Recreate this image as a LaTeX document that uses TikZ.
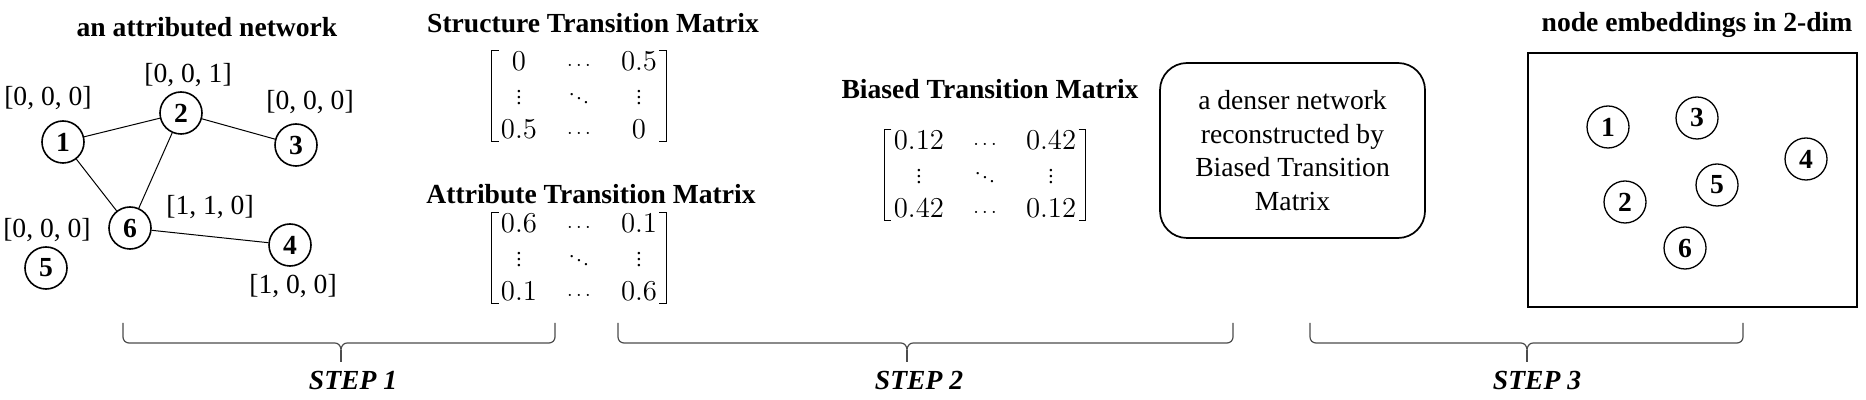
\documentclass[tikz,border=0pt]{standalone}
\usepackage{fontspec}
\setmainfont{Liberation Serif}
\usetikzlibrary{matrix}
\newcommand\hdts{\scalebox{0.7}{$\cdots$}}
\newcommand\vdts{\scalebox{0.75}{$\vdots$}}
\newcommand\ddts{\scalebox{0.7}{$\ddots$}}
\newcommand\fsz{\fontsize{13.8}{16.7}\selectfont}
\newcommand\lbrk[1]{\draw[brk] ([shift={(-1pt,1pt)}]#1.north west) -- ([shift={(-4.5pt,1pt)}]#1.north west) -- ([shift={(-4.5pt,-1pt)}]#1.south west) -- ([shift={(-1pt,-1pt)}]#1.south west);}
\newcommand\rbrk[1]{\draw[brk] ([shift={(1pt,1pt)}]#1.north east) -- ([shift={(4.5pt,1pt)}]#1.north east) -- ([shift={(4.5pt,-1pt)}]#1.south east) -- ([shift={(1pt,-1pt)}]#1.south east);}
\newcommand\stepbrace[3]{%
  \draw[bracestyle] (#1,323) -- (#1,337) to[out=-90,in=180] ({#1+6},343) -- ({#3-6},343)
    to[out=0,in=90] (#3,350) to[out=90,in=180] ({#3+6},343) -- ({#2-6},343)
    to[out=0,in=-90] (#2,337) -- (#2,323);
  \draw[bracestyle] (#3,350) -- (#3,362);}
\tikzset{
  ttl/.style={font=\fsz\bfseries, anchor=base, inner sep=0pt},
  attr/.style={font=\fsz, anchor=base, inner sep=0pt},
  gnode/.style={circle, draw, line width=0.8pt, minimum size=21pt, inner sep=0pt, font=\fsz\bfseries},
  enode/.style={gnode, line width=0.65pt},
  netedge/.style={line width=0.5pt},
  mat/.style={matrix of math nodes, row sep=8pt, inner sep=0pt,
    nodes={anchor=center, inner sep=0pt, text height=9pt, text depth=0pt, font=\fontsize{14}{16}\selectfont}},
  brk/.style={line width=0.6pt},
  bracestyle/.style={line width=0.6pt, black!70},
  steplabel/.style={font=\fsz\bfseries\itshape, anchor=base, inner sep=0pt},
}
\begin{document}
\begin{tikzpicture}[x=0.5pt, y=-0.5pt]
\fill[white] (0,0) rectangle (1866,400);
\useasboundingbox (0,0) rectangle (1866,400);

% titles
\node[ttl] (t1) at (207,37) {an attributed network};
\node[ttl] (t2) at (593,33) {Structure Transition Matrix};
\node[ttl] (t3) at (591,204) {Attribute Transition Matrix};
\node[ttl] (t4) at (990,99) {Biased Transition Matrix};
\node[ttl] (t5) at (1697,32) {node embeddings in 2-dim};

% network
\node[gnode] (n1) at (63,142) {1};
\node[gnode] (n2) at (181,113) {2};
\node[gnode] (n3) at (296,145) {3};
\node[gnode] (n6) at (130,228) {6};
\node[gnode] (n4) at (290,245) {4};
\node[gnode] (n5) at (46,268) {5};
\draw[netedge] (n1) -- (n2);
\draw[netedge] (n2) -- (n3);
\draw[netedge] (n1) -- (n6);
\draw[netedge] (n2) -- (n6);
\draw[netedge] (n6) -- (n4);

\node[attr] (a1) at (48,106) {[0, 0, 0]};
\node[attr] (a2) at (188,83) {[0, 0, 1]};
\node[attr] (a3) at (310,110) {[0, 0, 0]};
\node[attr] (a6) at (210,215) {[1, 1, 0]};
\node[attr] (a5) at (47,238) {[0, 0, 0]};
\node[attr] (a4) at (293,293) {[1, 0, 0]};

% matrices
\matrix (m1) [mat, column sep=12pt, nodes={minimum width=18pt}] at (579,96) {
0 & \hdts & 0.5 \\
\vdts & \ddts & \vdts \\
0.5 & \hdts & 0 \\
};
\lbrk{m1}\rbrk{m1}

\matrix (m2) [mat, column sep=12pt, nodes={minimum width=18pt}] at (579,258) {
0.6 & \hdts & 0.1 \\
\vdts & \ddts & \vdts \\
0.1 & \hdts & 0.6 \\
};
\lbrk{m2}\rbrk{m2}

\matrix (m3) [mat, column sep=8pt, nodes={minimum width=25pt}] at (985,175) {
0.12 & \hdts & 0.42 \\
\vdts & \ddts & \vdts \\
0.42 & \hdts & 0.12 \\
};
\lbrk{m3}\rbrk{m3}

% dense network box
\node[draw, line width=0.85pt, rounded corners=13.5pt, minimum width=132.5pt, minimum height=87.5pt,
  align=center, font=\fsz, inner sep=0pt] (dense) at (1292.5,150.5)
  {a denser network\\reconstructed by\\Biased Transition\\Matrix};

% embedding box
\node[draw, line width=1.2pt, minimum width=164.5pt, minimum height=127pt, inner sep=0pt] (emb) at (1692.5,180) {};
\node[enode] (e1) at (1608,127) {1};
\node[enode] (e3) at (1697,118) {3};
\node[enode] (e4) at (1806,159) {4};
\node[enode] (e5) at (1717,185) {5};
\node[enode] (e2) at (1625,202) {2};
\node[enode] (e6) at (1685,248) {6};

% braces and steps
\stepbrace{123}{555}{341}
\stepbrace{618}{1233}{907}
\stepbrace{1310}{1743}{1527}
\node[steplabel] (s1) at (353,389) {STEP 1};
\node[steplabel] (s2) at (919,389) {STEP 2};
\node[steplabel] (s3) at (1537,389) {STEP 3};
\end{tikzpicture}
\end{document}
